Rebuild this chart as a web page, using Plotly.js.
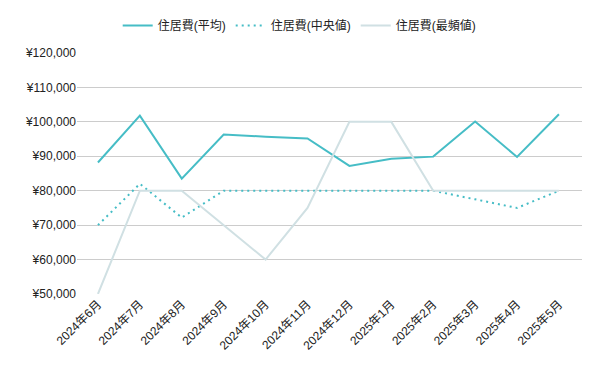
<!DOCTYPE html>
<html><head><meta charset="utf-8">
<script src="https://cdn.plot.ly/plotly-3.0.1.min.js"></script>
<style>html,body{margin:0;padding:0;background:#fff}#chart{width:600px;height:371px}</style>
</head><body><div id="chart"></div>
<script>
const categories = ["2024年6月","2024年7月","2024年8月","2024年9月","2024年10月","2024年11月","2024年12月","2025年1月","2025年2月","2025年3月","2025年4月","2025年5月"];
const avgValues = [88200, 101800, 83500, 96300, 95700, 95200, 87200, 89300, 89900, 100100, 89800, 102200];
const medianValues = [70000, 82000, 72200, 80000, 80000, 80000, 80000, 80000, 80000, 77500, 75000, 80000];
const modeValues = [50000, 80000, 80000, 70000, 60000, 75000, 100000, 100000, 80000, 80000, 80000, 80000];
const tickVals = [50000, 60000, 70000, 80000, 90000, 100000, 110000, 120000];
const tickText = ["¥50,000","¥60,000","¥70,000","¥80,000","¥90,000","¥100,000","¥110,000","¥120,000"];

const font = "Liberation Sans, Arial, Noto Sans CJK JP, sans-serif";
const traces = [
  {x: categories, y: avgValues, name: "住居費(平均)", type: "scatter", mode: "lines",
   line: {color: "#46bdc6", width: 2}},
  {x: categories, y: medianValues, name: "住居費(中央値)", type: "scatter", mode: "lines",
   line: {color: "#46bdc6", width: 2, dash: "2px,4px"}},
  {x: categories, y: modeValues, name: "住居費(最頻値)", type: "scatter", mode: "lines",
   line: {color: "#d0e0e3", width: 2}}
];
const layout = {
  width: 600, height: 371,
  margin: {l: 77, r: 18, t: 52, b: 77},
  paper_bgcolor: "#fff", plot_bgcolor: "#fff",
  font: {family: font, size: 12, color: "#222"},
  showlegend: true,
  legend: {orientation: "h", x: 0.44, xanchor: "center", y: 1.05, yanchor: "bottom",
           font: {family: font, size: 12, color: "#222"}, traceorder: "normal"},
  xaxis: {type: "category", range: [-0.5, 11.55], showgrid: false, zeroline: false,
          tickangle: -45, ticks: "", tickfont: {family: font, size: 12, color: "#222"}, showline: false},
  yaxis: {range: [50000, 120000], tickvals: tickVals, ticktext: tickText, showgrid: true,
          gridcolor: "#cccccc", gridwidth: 1, zeroline: false, ticks: "", ticklen: 0,
          tickfont: {family: font, size: 12, color: "#222"}, showline: false}
};
Plotly.newPlot("chart", traces, layout, {displayModeBar: false, staticPlot: true});
</script></body></html>
